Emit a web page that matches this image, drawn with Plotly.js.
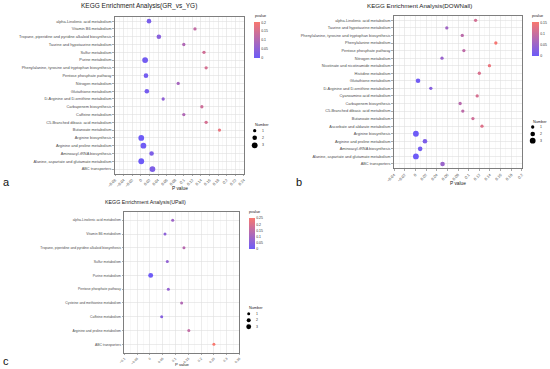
<!DOCTYPE html>
<html><head><meta charset="utf-8">
<script src="https://cdn.plot.ly/plotly-3.0.1.min.js"></script>
<style>html,body{margin:0;padding:0;background:#fff}#chart{width:550px;height:369px}</style>
</head><body><div id="chart"></div>
<script>
// ---------- data ----------
const catsA = ["alpha-Linolenic acid metabolism","Vitamin B6 metabolism","Tropane, piperidine and pyridine alkaloid biosynthesis","Taurine and hypotaurine metabolism","Sulfur metabolism","Purine metabolism","Phenylalanine, tyrosine and tryptophan biosynthesis","Pentose phosphate pathway","Nitrogen metabolism","Glutathione metabolism","D-Arginine and D-ornithine metabolism","Carbapenem biosynthesis","Caffeine metabolism","C5-Branched dibasic acid metabolism","Butanoate metabolism","Arginine biosynthesis","Arginine and proline metabolism","Aminoacyl-tRNA biosynthesis","Alanine, aspartate and glutamate metabolism","ABC transporters"];
const pA   = [0.019,0.126,0.042,0.100,0.147,0.010,0.152,0.012,0.087,0.014,0.052,0.142,0.100,0.152,0.183,0.001,0.006,0.025,0.001,0.027];
const numA = [2,1,2,1,1,3,1,2,1,2,1,1,1,1,1,3,3,2,3,3];

const catsB = ["alpha-Linolenic acid metabolism","Taurine and hypotaurine metabolism","Phenylalanine, tyrosine and tryptophan biosynthesis","Phenylalanine metabolism","Pentose phosphate pathway","Nitrogen metabolism","Nicotinate and nicotinamide metabolism","Histidine metabolism","Glutathione metabolism","D-Arginine and D-ornithine metabolism","Cyanoamino acid metabolism","Carbapenem biosynthesis","C5-Branched dibasic acid metabolism","Butanoate metabolism","Ascorbate and aldarate metabolism","Arginine biosynthesis","Arginine and proline metabolism","Aminoacyl-tRNA biosynthesis","Alanine, aspartate and glutamate metabolism","ABC transporters"];
const pB   = [0.113,0.059,0.088,0.151,0.091,0.050,0.139,0.120,0.005,0.029,0.116,0.084,0.089,0.108,0.125,0.001,0.018,0.009,0.001,0.051];
const numB = [1,1,1,1,1,1,1,1,2,1,1,1,1,1,1,3,2,2,3,2];

const catsC = ["alpha-Linolenic acid metabolism","Vitamin B6 metabolism","Tropane, piperidine and pyridine alkaloid biosynthesis","Sulfur metabolism","Purine metabolism","Pentose phosphate pathway","Cysteine and methionine metabolism","Caffeine metabolism","Arginine and proline metabolism","ABC transporters"];
const pC   = [0.089,0.059,0.133,0.068,0.003,0.072,0.124,0.046,0.152,0.250];
const numC = [1,1,1,1,3,1,1,1,1,1];

const titles = ["KEGG Enrichment Analysis(GR_vs_YG)","KEGG Enrichment Analysis(DOWNall)","KEGG Enrichment Analysis(UPall)"];
const panelLetters = ["a","b","c"];
const sizeLevels = [1,2,3];
const cbTicksA = [0,0.05,0.1,0.15,0.2];
const cbTicksB = [0,0.05,0.1,0.15];
const cbTicksC = [0,0.05,0.1,0.15,0.2,0.25];

// ---------- layout helpers ----------
const W=550,H=369;
const fx = v => v/W, fy = v => 1 - v/H;
const FONT = "Liberation Sans, Arial, sans-serif";
const colorscale = [[0,'#6C5BF8'],[1,'#F8786F']];

const panels = [
 {cats:catsA,p:pA,n:numA,L:115,R:244,T:16.5,B:173.7,xr:[-0.0601,0.2401],dt:0.02,mdt:0.01,cmax:0.205,cbt:cbTicksA,
  cb:{x:254.3,y0:21.7,y1:57.3,th:6},lab:3.9,sz:[0,3.3,4.6,5.8],
  title:{x:138.5,y:6,s:6.5},xt:{x:180,y:188,s:4.8},letter:{x:6,y:182},
  pv:{x:252.5,y:15.7},num:{tx:252.5,ty:125,dx:254.7,lx:259.5,ys:[130.7,137.7,145.3]}},
 {cats:catsB,p:pB,n:numB,L:394,R:522,T:15.8,B:168.5,xr:[-0.0401,0.2001],dt:0.02,mdt:0.01,cmax:0.155,cbt:cbTicksB,
  cb:{x:532.3,y0:21.7,y1:56,th:6.5},lab:3.9,sz:[0,3.3,4.6,5.8],
  title:{x:419.5,y:6,s:6.2},xt:{x:458,y:183.5,s:4.8},letter:{x:299,y:182},
  pv:{x:530.3,y:15.7},num:{tx:530.5,ty:121.7,dx:532.7,lx:537.5,ys:[127,134,140.7]}},
 {cats:catsC,p:pC,n:numC,L:124.3,R:239.5,T:212,B:352.6,xr:[-0.1001,0.3501],dt:0.05,mdt:0.025,cmax:0.25,cbt:cbTicksC,
  cb:{x:248.7,y0:218.3,y1:249,th:6},lab:3.4,sz:[0,3.0,4.0,4.9],
  title:{x:145.5,y:202,s:5.3},xt:{x:182,y:364,s:4.2},letter:{x:6,y:361},
  pv:{x:246.7,y:212.3},num:{tx:246.7,ty:308.3,dx:248.7,lx:253.5,ys:[313.7,320.3,326.7]}}
];

const data=[], layout={width:W,height:H,margin:{l:0,r:0,t:0,b:0},paper_bgcolor:'#fff',plot_bgcolor:'#fff',
  showlegend:false,font:{family:FONT,color:'#333'},annotations:[],shapes:[]};

panels.forEach((P,i)=>{
  const k = i===0?'':String(i+1);
  const ca = 'coloraxis'+k;
  data.push({type:'scatter',mode:'markers',x:P.p,y:P.cats,xaxis:'x'+k,yaxis:'y'+k,
    marker:{color:P.p,coloraxis:ca,size:P.n.map(v=>P.sz[v]),opacity:1,line:{width:0}},hoverinfo:'skip'});
  layout['xaxis'+k]={domain:[fx(P.L),fx(P.R)],anchor:'y'+k,range:P.xr,tick0:0,dtick:P.dt,tickangle:-45,
    tickfont:{size:P.lab,color:'#4d4d4d'},ticks:'outside',ticklen:1.8,tickwidth:0.5,tickcolor:'#555',
    showgrid:true,gridcolor:'#e0e0e0',gridwidth:0.6,minor:{dtick:P.mdt,tick0:0,showgrid:true,gridcolor:'#eeeeee',gridwidth:0.4},
    showline:true,mirror:true,linecolor:'#707070',linewidth:0.9,zeroline:false,automargin:false};
  layout['yaxis'+k]={domain:[fy(P.B),fy(P.T)],anchor:'x'+k,type:'category',categoryarray:P.cats,categoryorder:'array',
    range:[P.cats.length-1+0.6,-0.6],tickfont:{size:P.lab,color:'#4d4d4d'},ticks:'outside',ticklen:1.8,tickwidth:0.5,tickcolor:'#555',
    showgrid:true,gridcolor:'#e0e0e0',gridwidth:0.6,showline:true,mirror:true,linecolor:'#707070',linewidth:0.9,zeroline:false,automargin:false};
  layout[ca]={cmin:0,cmax:P.cmax,colorscale:colorscale,showscale:true,
    colorbar:{x:fx(P.cb.x),xanchor:'left',xpad:0,y:fy((P.cb.y0+P.cb.y1)/2),yanchor:'middle',ypad:0,
      lenmode:'pixels',len:P.cb.y1-P.cb.y0,thicknessmode:'pixels',thickness:P.cb.th,outlinewidth:0,
      tickvals:P.cbt,ticks:'',ticklabelpad:1,tickfont:{size:3.5,color:'#333'},title:{text:''}}};
  const A = layout.annotations;
  A.push({xref:'paper',yref:'paper',x:fx(P.title.x),y:fy(P.title.y),text:titles[i],showarrow:false,xanchor:'center',yanchor:'middle',font:{size:P.title.s,color:'#222'}});
  A.push({xref:'paper',yref:'paper',x:fx(P.xt.x),y:fy(P.xt.y),text:'P value',showarrow:false,xanchor:'center',yanchor:'middle',font:{size:P.xt.s,color:'#222'}});
  A.push({xref:'paper',yref:'paper',x:fx(P.letter.x),y:fy(P.letter.y),text:panelLetters[i],showarrow:false,xanchor:'center',yanchor:'middle',font:{size:11,color:'#111'}});
  A.push({xref:'paper',yref:'paper',x:fx(P.pv.x),y:fy(P.pv.y),text:'pvalue',showarrow:false,xanchor:'left',yanchor:'middle',font:{size:3.8,color:'#222'}});
  A.push({xref:'paper',yref:'paper',x:fx(P.num.tx),y:fy(P.num.ty),text:'Number',showarrow:false,xanchor:'left',yanchor:'middle',font:{size:3.8,color:'#222'}});
  sizeLevels.forEach((lv,j)=>{
    const r = P.sz[lv]/2, cx=P.num.dx, cy=P.num.ys[j];
    layout.shapes.push({type:'circle',xref:'paper',yref:'paper',x0:fx(cx-r),x1:fx(cx+r),y0:fy(cy+r),y1:fy(cy-r),fillcolor:'#000',line:{width:0}});
    A.push({xref:'paper',yref:'paper',x:fx(P.num.lx),y:fy(cy),text:String(lv),showarrow:false,xanchor:'left',yanchor:'middle',font:{size:3.5,color:'#333'}});
  });
});

Plotly.newPlot('chart',data,layout,{staticPlot:true,displayModeBar:false});
</script></body></html>
